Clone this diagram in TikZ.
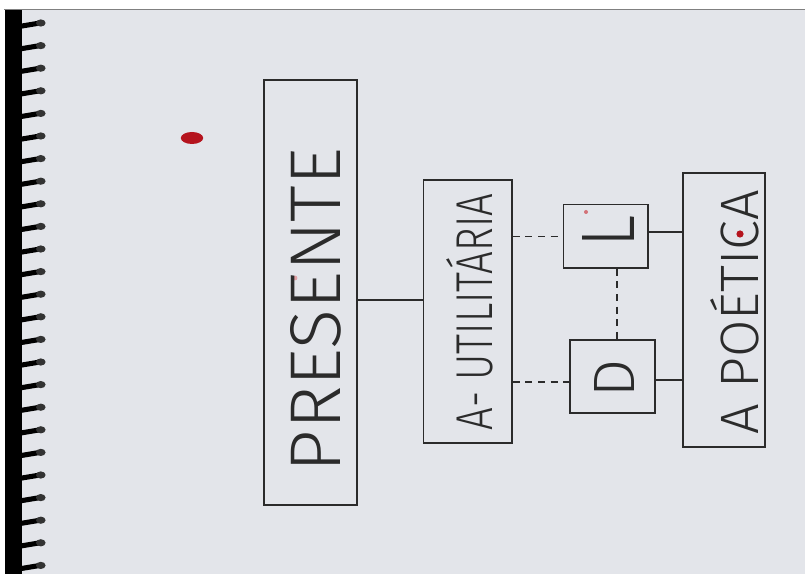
\documentclass[tikz,border=0pt]{standalone}
\usepackage{fontspec}
\setmainfont{Liberation Sans}
\newfontfamily\handfont{Fira Sans}[UprightFont=* Light]
\usepackage{graphicx}
\usetikzlibrary{calc}

\definecolor{paper}{HTML}{E3E5EA}
\definecolor{pencil}{HTML}{2B2B2B}
\definecolor{inkred}{HTML}{B5141E}

\tikzset{
	frame/.style={draw=pencil, line width=1pt, inner sep=0pt},
	word/.style={text=pencil, rotate=90, inner sep=0pt, font=\handfont},
	link/.style={draw=pencil, line width=1pt},
	dashlink/.style={draw=pencil, line width=1pt, dash pattern=on 5pt off 4pt},
}
\newcommand{\hand}[3]{\resizebox{#1}{#2}{#3}}

\begin{document}
\begin{tikzpicture}
			\useasboundingbox (0,0) rectangle (20.125,14.35);
			% paper and binding
			\fill[white] (0,0) rectangle (20.125,14.35);
			\fill[paper] (0.55,0) rectangle (20.125,14.1);
			\draw[gray, line width=0.6pt] (0.1,14.12) -- (20.125,14.12);
			\fill[black] (0.12,0) rectangle (0.55,14.1);
			\foreach \i in {0,...,24}{
				\pgfmathsetmacro{\yy}{(574-(23+22.6*\i))/40}
				\draw[black, line width=3.6pt, line cap=round] (0.4,\yy-0.1) -- (1.0,\yy);
				\fill[black!80] (1.02,\yy) ellipse (0.12 and 0.09);
			}
			
			% stains
			\fill[inkred] (4.8,10.9) ellipse (0.28 and 0.15);
			\fill[inkred] (18.5,8.5) circle (0.09);
			\fill[inkred!60] (14.65,9.05) circle (0.05);
			\fill[inkred!40] (7.375,7.4) circle (0.06);
			
			% boxes
			\node[frame, minimum width=2.33cm, minimum height=10.62cm] (pres) at (7.76,7.04) {};
			\node[frame, minimum width=2.22cm, minimum height=6.58cm] (util) at (11.69,6.56) {};
			\node[frame, minimum width=2.12cm, minimum height=1.58cm] (lbox) at (15.14,8.44) {};
			\node[frame, minimum width=2.12cm, minimum height=1.82cm] (dbox) at (15.31,4.94) {};
			\node[frame, minimum width=2.05cm, minimum height=6.85cm] (poet) at (18.1,6.6) {};
			
			% texts
			\node[word] (tpres) at (7.9,6.6) {\hand{8.1cm}{1.25cm}{PRESENTE}};
			\node[word] (tutil) at (11.75,6.55) {\hand{5.9cm}{1.15cm}{A- UTILITÁRIA}};
			\node[word] (tl) at (15.22,8.57) {\hand{0.8cm}{1.3cm}{L}};
			\node[word] (td) at (15.37,4.88) {\hand{0.95cm}{1cm}{D}};
			\node[word] (tpoet) at (18.37,6.55) {\hand{6.1cm}{1.2cm}{A POÉTICA}};
			
			% connectors
			\draw[link] (pres.east |- 0,6.85) -- (util.west |- 0,6.85);
			\draw[dashlink] (util.east |- lbox) -- (lbox.west);
			\draw[dashlink] (util.east |- 0,4.8) -- (dbox.west |- 0,4.8);
			\draw[dashlink] (lbox.south -| 15.42,0) -- (dbox.north -| 15.42,0);
			\draw[link] (lbox.east |- 0,8.55) -- (poet.west |- 0,8.55);
			\draw[link] (dbox.east |- 0,4.85) -- (poet.west |- 0,4.85);
		\end{tikzpicture}
\end{document}
